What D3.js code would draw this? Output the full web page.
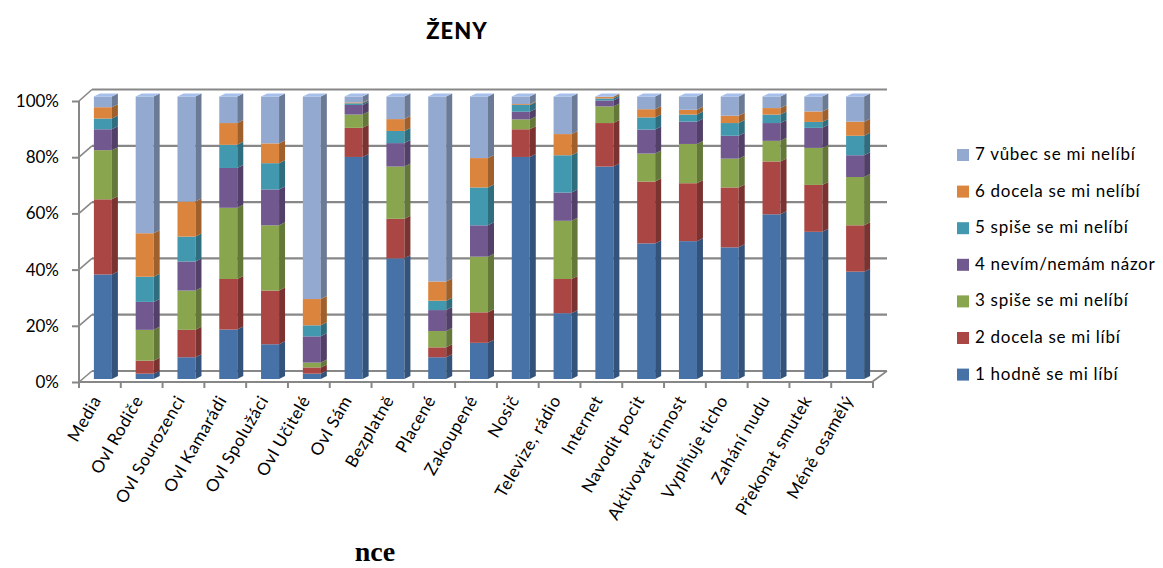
<!DOCTYPE html>
<html><head><meta charset="utf-8">
<script src="https://cdn.jsdelivr.net/npm/d3@7"></script>
<style>body{margin:0;background:#fff}svg{display:block}</style>
</head><body><svg id="c" width="1163" height="568"></svg>
<script>
const categories = ["Media","Ovl Rodiče","Ovl Sourozenci","Ovl Kamarádi","Ovl Spolužáci","Ovl Učitelé","Ovl Sám","Bezplatně","Placené","Zakoupené","Nosič","Televize, rádio","Internet","Navodit pocit","Aktivovat činnost","Vyplňuje ticho","Zahání nudu","Překonat smutek","Méně osamělý"];
const seriesNames = ["1 hodně se mi líbí","2 docela se mi líbí","3 spiše se mi nelíbí","4 nevím/nemám názor","5 spiše se mi nelíbí","6 docela se mi nelíbí","7 vůbec se mi nelíbí"];
const s1 = [37.0, 1.9, 7.7, 17.5, 12.3, 1.9, 78.6, 42.7, 7.7, 12.8, 78.6, 23.3, 75.2, 48.0, 48.8, 46.6, 58.3, 52.1, 38.0];
const s2 = [26.6, 4.6, 9.7, 17.9, 19.0, 2.2, 10.3, 14.0, 3.5, 10.8, 9.8, 12.1, 15.4, 21.9, 20.5, 21.2, 18.7, 16.6, 16.4];
const s3 = [17.4, 10.9, 13.9, 25.2, 23.1, 1.7, 4.7, 18.5, 5.8, 19.7, 3.5, 20.6, 5.9, 9.9, 13.9, 10.2, 7.3, 13.1, 17.1];
const s4 = [7.4, 9.9, 10.3, 14.1, 12.7, 9.3, 3.4, 8.3, 7.4, 11.1, 2.7, 10.0, 2.1, 8.5, 7.9, 8.1, 6.3, 7.1, 7.7];
const s5 = [3.8, 8.9, 8.8, 8.2, 9.3, 3.9, 0.6, 4.3, 3.3, 13.4, 2.4, 13.2, 0.7, 4.3, 2.5, 4.5, 3.0, 2.1, 6.9];
const s6 = [4.0, 15.4, 12.4, 7.7, 7.0, 9.3, 0.3, 4.2, 6.8, 10.4, 0.3, 7.5, 0.5, 2.9, 1.7, 2.6, 2.3, 3.7, 5.0];
const s7 = [3.8, 48.4, 37.2, 9.4, 16.6, 71.7, 2.1, 8.0, 65.5, 21.8, 2.7, 13.3, 0.2, 4.5, 4.7, 6.8, 4.1, 5.3, 8.9];
const yTicks = [0, 20, 40, 60, 80, 100];
const colors = ["#4672A8","#AA4643","#89A54E","#71588F","#4198AF","#DB843D","#93A9CF"];

const svg = d3.select("#c");
const seriesVals = [s1,s2,s3,s4,s5,s6,s7];
const rows = categories.map((c,i)=>{const o={cat:c}; seriesVals.forEach((s,k)=>o["k"+k]=s[i]); return o;});
const keys = seriesVals.map((_,k)=>"k"+k);
const stack = d3.stack().keys(keys).offset(d3.stackOffsetExpand)(rows);

const x = d3.scaleBand().domain(categories).range([79, 873]);
const yFront = d3.scaleLinear().domain([0,100]).range([382,101]);
const yWall = d3.scaleLinear().domain([0,100]).range([371,89.5]);
const yBar = d3.scaleLinear().domain([0,1]).range([379,96.5]);
const gridCol = "#878787";
const font = "Lato, 'Open Sans', sans-serif";

// back wall gridlines
const g = svg.append("g");
yTicks.forEach(t=>{
  g.append("line").attr("x1",92).attr("x2",887).attr("y1",yWall(t)).attr("y2",yWall(t))
    .attr("stroke",gridCol).attr("stroke-width",2.2);
  g.append("line").attr("x1",79).attr("x2",92).attr("y1",yFront(t)).attr("y2",yWall(t))
    .attr("stroke",gridCol).attr("stroke-width",1.6);
});
g.append("line").attr("x1",872).attr("x2",887).attr("y1",382).attr("y2",371).attr("stroke",gridCol).attr("stroke-width",1.6);

// axes
const yAxis = d3.axisLeft(yFront).tickValues(yTicks).tickSize(7).tickFormat(d=>d+"%");
const ya = svg.append("g").attr("transform","translate(79,0)").call(yAxis);
ya.select(".domain").attr("stroke",gridCol).attr("stroke-width",2).attr("d","M0,101V382");
ya.selectAll(".tick line").attr("stroke",gridCol).attr("stroke-width",2);
ya.selectAll(".tick text").attr("x",-20).attr("font-family",font).attr("font-size",17).attr("fill","#000");

svg.append("line").attr("x1",79).attr("x2",872).attr("y1",382).attr("y2",382).attr("stroke",gridCol).attr("stroke-width",2);
const boundaries = categories.map(c=>x(c)).concat([x.range()[1]]);
svg.append("g").selectAll("line").data(boundaries).join("line")
  .attr("x1",d=>d).attr("x2",d=>d).attr("y1",382).attr("y2",388).attr("stroke",gridCol).attr("stroke-width",2);

// bars
const bw = 18, dx = 6, dy = 3;
const barX = c => x(c) + x.bandwidth()/2 - 6;
const bars = svg.append("g");
stack.forEach((layer,k)=>{
  const col = d3.color(colors[k]);
  const dark = col.darker(0.9);
  const light = col.brighter(0.35);
  layer.forEach((d,i)=>{
    const c = categories[i];
    const x0 = barX(c), y0 = yBar(d[0]), y1 = yBar(d[1]);
    if (y0 - y1 <= 0) return;
    bars.append("rect").attr("x",x0).attr("y",y1).attr("width",bw).attr("height",y0-y1).attr("fill",col);
    bars.append("path").attr("d",`M${x0+bw},${y0}L${x0+bw},${y1}L${x0+bw+dx},${y1-dy}L${x0+bw+dx},${y0-dy}Z`).attr("fill",dark);
    if (k === stack.length-1) {
      bars.append("path").attr("d",`M${x0},${y1}L${x0+bw},${y1}L${x0+bw+dx},${y1-dy}L${x0+dx},${y1-dy}Z`).attr("fill",light);
    }
  });
});

// x labels
svg.append("g").selectAll("text").data(categories).join("text")
  .attr("transform",d=>`translate(${x(d)+x.bandwidth()/2+2},400) rotate(-60)`)
  .attr("text-anchor","end").attr("font-family",font).attr("font-size",17)
  .attr("letter-spacing","0.6px").attr("fill","#000").text(d=>d);

// title
svg.append("text").attr("x",457).attr("y",39).attr("text-anchor","middle")
  .attr("font-family",font).attr("font-weight","900").attr("font-size",22)
  .attr("letter-spacing","1px").text("ŽENY");
svg.append("text").attr("x",375).attr("y",561).attr("text-anchor","middle")
  .attr("font-family","'Liberation Serif', serif").attr("font-weight","bold").attr("font-size",28).text("nce");

// legend
const leg = svg.append("g");
const order = [6,5,4,3,2,1,0];
order.forEach((k,i)=>{
  const by = 160 + i*36.6;
  leg.append("rect").attr("x",957).attr("y",by-11).attr("width",12).attr("height",12).attr("fill",colors[k]);
  leg.append("text").attr("x",975).attr("y",by).attr("font-family",font).attr("font-size",17)
    .attr("letter-spacing","0.7px").attr("fill","#000").text(seriesNames[k]);
});
</script></body></html>
